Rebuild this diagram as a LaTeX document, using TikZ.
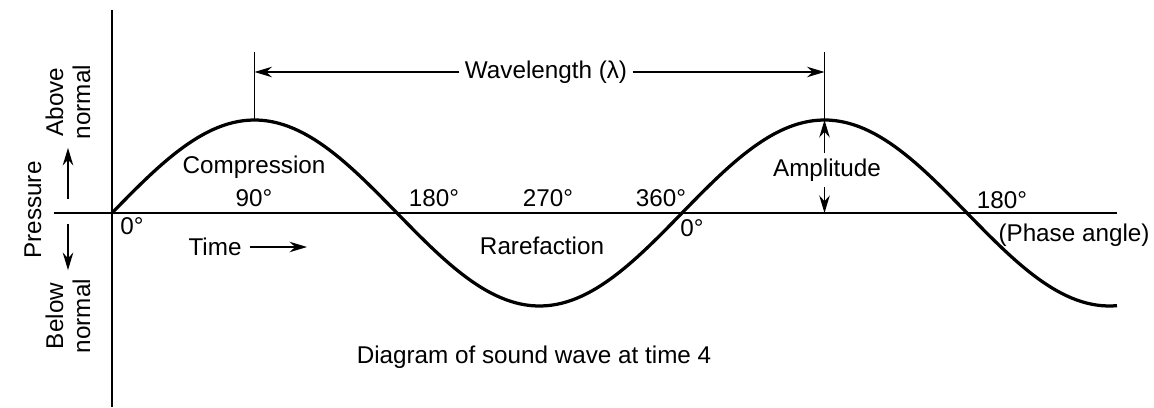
\documentclass[tikz,border=0pt]{standalone}
\usepackage{fontspec}
\setmainfont{Liberation Sans}
\usetikzlibrary{arrows.meta}

\begin{document}
\begin{tikzpicture}[>={Stealth[length=7pt,width=4.2pt]}, x=0.4pt, y=0.4pt, font=\fontsize{9.7}{10.8}\selectfont]

  % Styles for axes, the wave and the labels
  \tikzset{
    axis/.style={line width=0.6pt},
    wave/.style={line width=1.3pt},
    lbl/.style={inner sep=2pt},
  }

  \useasboundingbox (-112,-194) rectangle (1042,213);

  % 1. Key points
  \coordinate (O) at (0,0);
  \coordinate (Top) at (0,203);
  \coordinate (Bot) at (0,-194);
  \coordinate (Left) at (-58,0);
  \coordinate (Right) at (1005,0);
  \coordinate (P1) at (142.5,93); % first crest
  \coordinate (P2) at (712.5,93); % second crest
  \coordinate (T1) at (142.5,161);
  \coordinate (T2) at (712.5,161);
  \coordinate (W1) at (142.5,141);
  \coordinate (W2) at (712.5,141);
  \coordinate (A0) at (712.5,0);
  \coordinate (U0) at (-44,14);
  \coordinate (D0) at (-44,-11);
  \coordinate (TimeEnd) at (195,-34);

  % --- AXES ---
  \draw[axis] (Bot) -- (Top);
  \draw[axis] (Left) -- (Right);

  % --- WAVE ---
  \draw[wave] plot[domain=0:1005, samples=200] (\x, {93*sin(\x*0.631579)});

  % --- WAVELENGTH ---
  \draw[axis] (T1) -- (P1);
  \draw[axis] (T2) -- (P2);
  \node[lbl] (wl) at (434,141) {Wavelength (λ)};
  \draw[axis,->] (wl.west) -- (W1);
  \draw[axis,->] (wl.east) -- (W2);

  % --- AMPLITUDE ---
  \node[lbl] (amp) at (715,43) {Amplitude};
  \draw[axis,->] (amp.north -| A0) -- (P2);
  \draw[axis,->] (amp.south -| A0) -- (A0);

  % --- PRESSURE LABELS ---
  \node[rotate=90] (pres) at (-79,3) {Pressure};
  \node[rotate=90, align=center] (above) at (-44,111) {Above\\normal};
  \node[rotate=90, align=center] (below) at (-44,-103) {Below\\normal};
  \draw[axis,->] (U0) -- (above.west);
  \draw[axis,->] (D0) -- (below.east);

  % --- PHASE ANGLES ---
  \node (deg0) at (20,-13) {0°};
  \foreach \ang/\xx in {90/142, 180/322, 270/436, 360/549}
    \node (deg\ang) at (\xx,15) {\ang°};
  \node (degB0) at (580,-15) {0°};
  \node (degB180) at (890,13) {180°};
  \node (phase) at (962,-22) {(Phase angle)};

  % --- REGION LABELS ---
  \node (comp) at (142,46) {Compression};
  \node (rare) at (430,-33) {Rarefaction};
  \node (time) at (103,-34) {Time};
  \draw[axis,->] (time.east) -- (TimeEnd);
  \node (cap) at (422,-144) {Diagram of sound wave at time 4};

\end{tikzpicture}
\end{document}
